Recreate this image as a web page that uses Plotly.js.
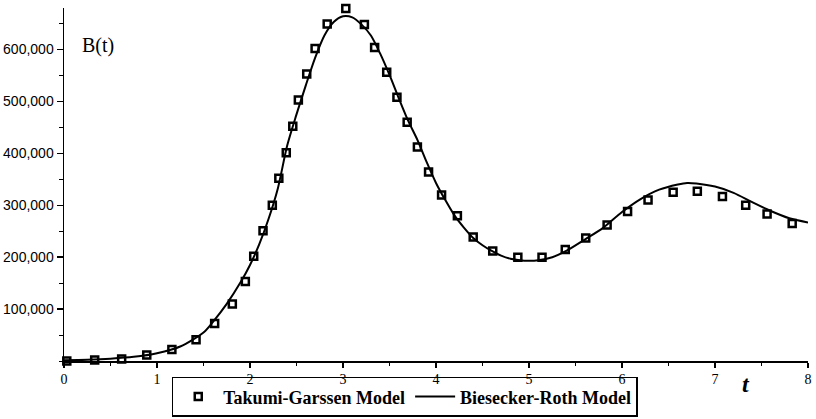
<!DOCTYPE html>
<html>
<head>
<meta charset="utf-8">
<script src="https://cdn.plot.ly/plotly-3.0.1.min.js"></script>
<style>html,body{margin:0;padding:0;background:#fff;}#chart{width:816px;height:419px;}</style>
</head>
<body>
<div id="chart"></div>
<script>
// Takumi-Garssen Model (points)
const tgT = [0.03,0.33,0.62,0.89,1.16,1.42,1.62,1.81,1.95,2.04,2.14,2.24,2.31,2.39,2.46,2.52,2.61,2.70,2.83,3.03,3.23,3.34,3.47,3.58,3.69,3.80,3.92,4.06,4.23,4.40,4.61,4.88,5.14,5.39,5.61,5.84,6.06,6.28,6.55,6.81,7.08,7.33,7.56,7.83];
const tgB = [0,1900,3800,11500,22000,41000,72000,110000,153000,202000,251000,300000,352000,401000,452000,503000,553000,602000,649000,679000,648000,604000,556000,508000,460000,412000,364000,320000,280000,239000,212000,200000,200000,215000,237000,262000,288000,310000,325000,327000,317000,300000,283000,265000];
// Biesecker-Roth Model (curve)
const brT = [0,0.25,0.5,0.75,1.0,1.25,1.5,1.6,1.75,1.9,2.0,2.1,2.2,2.3,2.4,2.5,2.6,2.7,2.8,2.9,3.0,3.1,3.2,3.3,3.4,3.5,3.6,3.7,3.8,3.9,4.0,4.1,4.2,4.3,4.4,4.5,4.6,4.7,4.8,4.9,5.0,5.1,5.25,5.4,5.6,5.8,6.0,6.2,6.4,6.6,6.7,6.8,7.0,7.2,7.4,7.6,7.8,8.0];
const brB = [1500,2500,4500,8000,15000,28000,55000,75000,110000,152000,185000,225000,274000,333000,415000,475000,531000,584000,627000,653000,664000,662000,648000,627000,592000,551000,506000,463000,426000,383000,343000,310000,280000,257000,237000,223000,212000,203000,197000,194000,193000,194000,200000,212000,234000,257000,287000,312000,330000,340000,343000,342000,336000,324000,306000,289000,275000,267000];
const xTicks = [0,1,2,3,4,5,6,7,8];
const yTicks = [100000,200000,300000,400000,500000,600000];
const yTickText = ['100,000','200,000','300,000','400,000','500,000','600,000'];

const traces = [
  {x: tgT, y: tgB, type: 'scatter', mode: 'markers', name: '<b>Takumi-Garssen Model</b>',
   marker: {symbol: 'square-open', size: 7, color: '#000', line: {color: '#000', width: 2.5}}, cliponaxis: false},
  {x: brT, y: brB, type: 'scatter', mode: 'lines', name: '<b>Biesecker-Roth Model</b>',
   line: {color: '#000', width: 2, shape: 'spline', smoothing: 0.8}, cliponaxis: false}
];

const layout = {
  width: 816, height: 419,
  margin: {l: 64, r: 8, t: 8, b: 58, autoexpand: false},
  paper_bgcolor: '#fff', plot_bgcolor: '#fff',
  font: {color: '#000'},
  showlegend: true,
  legend: {orientation: 'h', x: 0.458, xanchor: 'center', y: -0.158, yanchor: 'bottom',
           bordercolor: '#000', borderwidth: 1.5, bgcolor: 'rgba(255,255,255,0)',
           font: {family: 'Liberation Serif', size: 18, color: '#000'}, itemwidth: 40,
           tracegroupgap: 0},
  xaxis: {range: [0, 8], tickvals: xTicks, ticktext: xTicks.map(String),
          showgrid: false, zeroline: false, showline: true, linecolor: '#000', linewidth: 1.5,
          ticks: 'outside', ticklen: 5, tickwidth: 1.5, tickcolor: '#000',
          minor: {dtick: 0.5, ticks: 'outside', ticklen: 3, tickcolor: '#000', tickwidth: 1},
          tickfont: {family: 'Liberation Sans Narrow', size: 14, color: '#000'}},
  yaxis: {range: [0, 680000], tickvals: yTicks, ticktext: yTickText,
          showgrid: false, zeroline: false, showline: true, linecolor: '#000', linewidth: 1.5,
          ticks: 'outside', ticklen: 6, tickwidth: 1.5, tickcolor: '#000',
          minor: {dtick: 50000, ticks: 'outside', ticklen: 4, tickcolor: '#000', tickwidth: 1},
          tickfont: {family: 'Liberation Sans', size: 14, color: '#000'}},
  annotations: [
    {text: 'B(t)', xref: 'paper', yref: 'paper', x: 0.022, y: 0.895, xanchor: 'left', yanchor: 'middle',
     showarrow: false, font: {family: 'Liberation Serif', size: 20, color: '#000'}},
    {text: '<b><i>t</i></b>', xref: 'paper', yref: 'paper', x: 0.917, y: -0.065, xanchor: 'center', yanchor: 'middle',
     showarrow: false, font: {family: 'Liberation Serif', size: 24, color: '#000'}}
  ]
};

Plotly.newPlot('chart', traces, layout, {displayModeBar: false, staticPlot: true});
</script>
</body>
</html>
